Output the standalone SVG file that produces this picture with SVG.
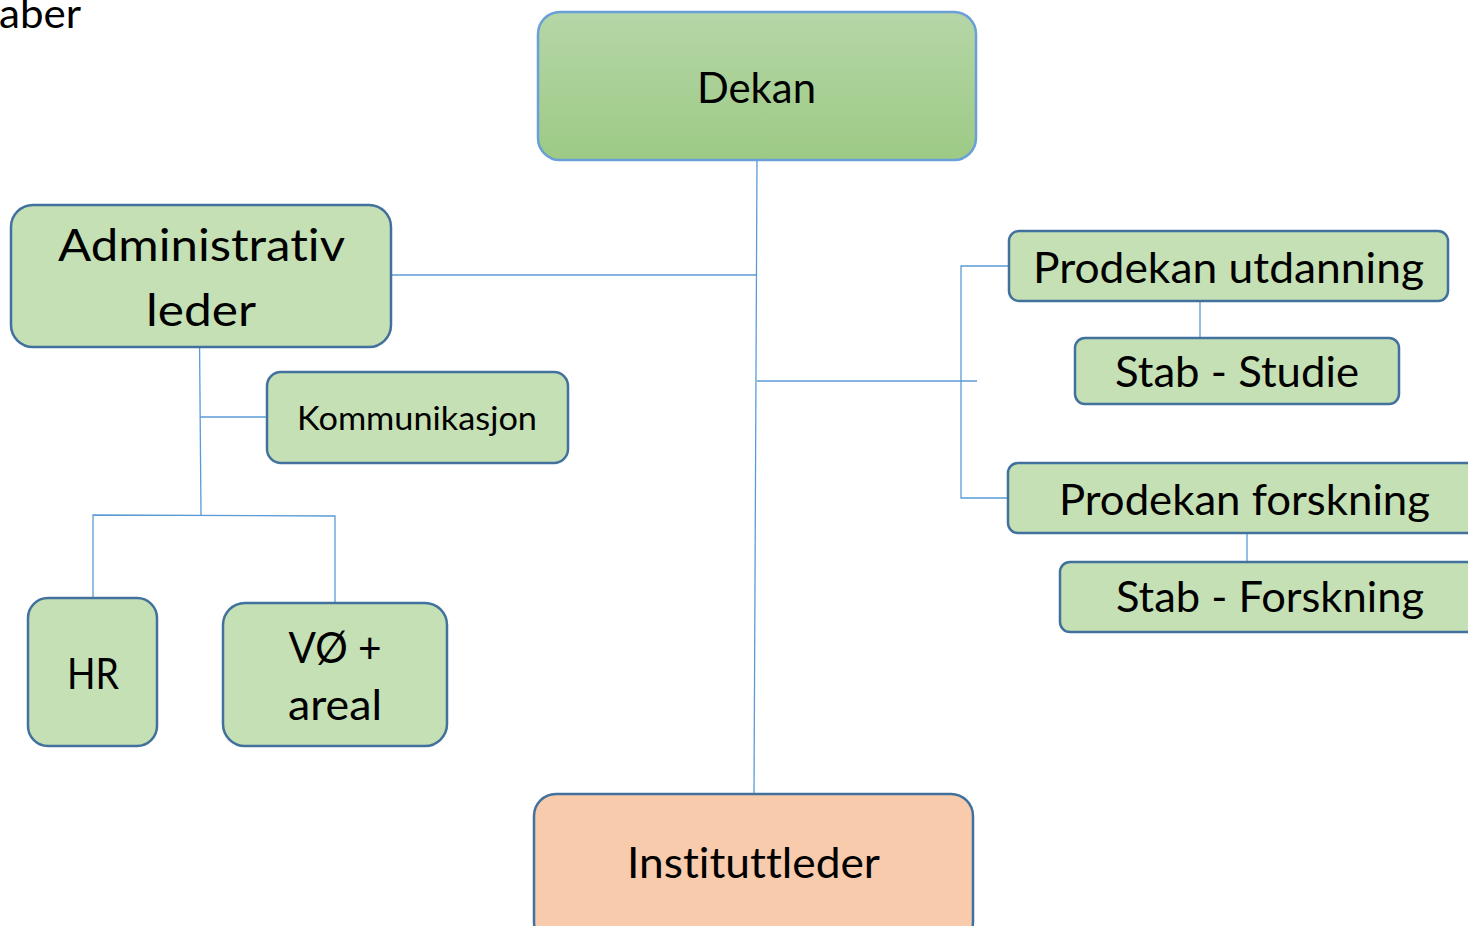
<svg xmlns="http://www.w3.org/2000/svg" width="1468" height="926" viewBox="0 0 1468 926">
<style>
.box{fill:#c5e0b4;stroke:#41719c;stroke-width:2.5}
.t{font-family:Lato,"Open Sans","Liberation Sans",sans-serif;fill:#000;text-anchor:middle;font-variant-ligatures:none}
.c{stroke:#5b9bd5;stroke-width:1.3;fill:none}
</style>
<defs>
<linearGradient id="g1" x1="0" y1="0" x2="0" y2="1">
<stop offset="0" stop-color="#b5d6a7"/>
<stop offset="1" stop-color="#9dca85"/>
</linearGradient>
</defs>
<rect width="1468" height="926" fill="#fff"/>
<text class="t" x="40" y="28" font-size="41" textLength="82" lengthAdjust="spacingAndGlyphs">aber</text>
<g id="connectors">
<line class="c" x1="757" y1="160" x2="754" y2="794"/>
<line class="c" x1="391" y1="275" x2="756" y2="275"/>
<line class="c" x1="757" y1="381" x2="977" y2="381"/>
<polyline class="c" points="1008,266 961,266 961,498 1008,498"/>
<line class="c" x1="1200" y1="301" x2="1200" y2="338"/>
<line class="c" x1="1247" y1="533" x2="1247" y2="562"/>
<line class="c" x1="199.5" y1="338" x2="201" y2="515"/>
<line class="c" x1="200" y1="417" x2="267" y2="417"/>
<polyline class="c" points="93,601 93,515 335,516 335,603"/>
</g>
<g id="dekan">
<rect x="538" y="12" width="438" height="148" rx="22" fill="url(#g1)" stroke="#6a9fd8" stroke-width="2.5"/>
<text class="t" x="756.5" y="103" font-size="42" textLength="119" lengthAdjust="spacingAndGlyphs">Dekan</text>
</g>
<g id="admin">
<rect class="box" x="11" y="205" width="380" height="142" rx="22"/>
<text class="t" x="201.5" y="261" font-size="45" textLength="287" lengthAdjust="spacingAndGlyphs">Administrativ</text>
<text class="t" x="201" y="326" font-size="45" textLength="110" lengthAdjust="spacingAndGlyphs">leder</text>
</g>
<g id="kommunikasjon">
<rect class="box" x="267" y="372" width="301" height="91" rx="14"/>
<text class="t" x="417" y="430" font-size="33" textLength="240" lengthAdjust="spacingAndGlyphs">Kommunikasjon</text>
</g>
<g id="hr">
<rect class="box" x="28" y="598" width="129" height="148" rx="20"/>
<text class="t" x="93" y="689" font-size="43" textLength="52" lengthAdjust="spacingAndGlyphs">HR</text>
</g>
<g id="vo">
<rect class="box" x="223" y="603" width="224" height="143" rx="22"/>
<text class="t" x="335" y="663" font-size="43" textLength="93" lengthAdjust="spacingAndGlyphs">VØ +</text>
<text class="t" x="335" y="720" font-size="43" textLength="94" lengthAdjust="spacingAndGlyphs">areal</text>
</g>
<g id="instituttleder">
<rect x="534" y="794" width="439" height="150" rx="22" fill="#f8cbad" stroke="#41719c" stroke-width="2.5"/>
<text class="t" x="753.5" y="878" font-size="42" textLength="253" lengthAdjust="spacingAndGlyphs">Instituttleder</text>
</g>
<g id="prodekan-utdanning">
<rect class="box" x="1009" y="231" width="439" height="70" rx="10"/>
<text class="t" x="1228.5" y="283" font-size="42" textLength="391" lengthAdjust="spacingAndGlyphs">Prodekan utdanning</text>
</g>
<g id="stab-studie">
<rect class="box" x="1075" y="338" width="324" height="66" rx="10"/>
<text class="t" x="1237" y="387" font-size="42" textLength="244" lengthAdjust="spacingAndGlyphs">Stab - Studie</text>
</g>
<g id="prodekan-forskning">
<rect class="box" x="1008" y="463" width="480" height="70" rx="10"/>
<text class="t" x="1244.5" y="515" font-size="42" textLength="371" lengthAdjust="spacingAndGlyphs">Prodekan forskning</text>
</g>
<g id="stab-forskning">
<rect class="box" x="1060" y="562" width="430" height="70" rx="10"/>
<text class="t" x="1270" y="612" font-size="42" textLength="308" lengthAdjust="spacingAndGlyphs">Stab - Forskning</text>
</g>
</svg>
